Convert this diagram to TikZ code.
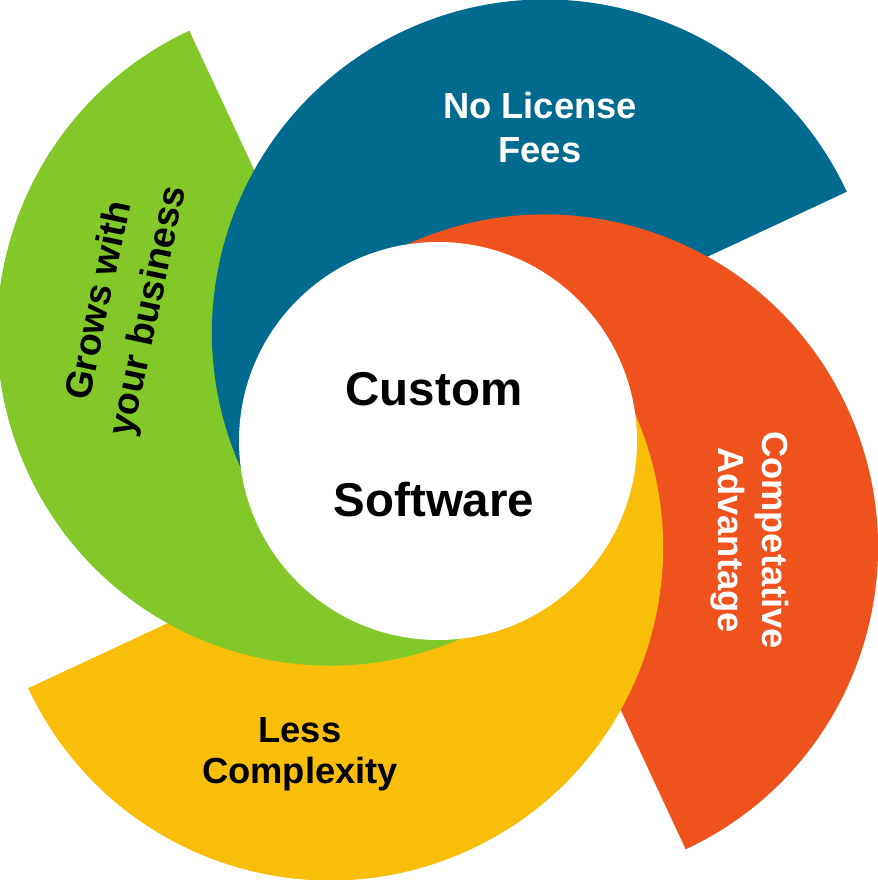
\documentclass[tikz,border=0pt]{standalone}
\usepackage{fontspec}
\setmainfont{Liberation Sans}
\usetikzlibrary{calc}
\definecolor{Blue}{HTML}{006B8F}
\definecolor{Green}{HTML}{82C828}
\definecolor{Orange}{HTML}{F0521E}
\definecolor{Yellow}{HTML}{F8BE0A}

\begin{document}
\begin{tikzpicture}
[x=0.3mm,y=0.3mm,
lbl/.style={font=\bfseries\fontsize{31}{38}\selectfont,align=center,inner sep=0pt},
hubtext/.style={font=\bfseries\fontsize{40.5}{94.7}\selectfont,align=center,inner sep=0pt}
]
\newcommand{\petalpath}[2]{(#1) -- ++(#2-20:333) arc[start angle=#2-20,end angle=#2+160,radius=333] -- cycle}
%% frame
\useasboundingbox (0,0) rectangle (877,880);
%% centres
\coordinate (hubC) at (437.5,440);
\coordinate (cBlue) at ($(hubC)+(45:152)$);
\coordinate (cGreen) at ($(hubC)+(135:152)$);
\coordinate (cYellow) at ($(hubC)+(225:152)$);
\coordinate (cOrange) at ($(hubC)+(315:152)$);
%% petals
\fill[Orange] \petalpath{cOrange}{315};
\fill[Yellow] \petalpath{cYellow}{225};
\fill[Green] \petalpath{cGreen}{135};
\fill[Blue] \petalpath{cBlue}{45};
%% orange goes on top of blue again (half plane above the yellow cut)
\begin{scope}
\clip (cYellow) ++(205:900) -- ++(25:1800) -- ++(115:900) -- ++(205:1800) -- cycle;
\fill[Orange] \petalpath{cOrange}{315};
\end{scope}
%% hub
\fill[white] (438,439) circle[radius=199];
\node[hubtext] (hub) at (434,435) {Custom\\Software};
%% labels
\node[lbl,white] (fees) at (540,752.5) {No License\\Fees};
\node[lbl,white,rotate=-90] (edge) at (750,340) {Competative\\Advantage};
\node[lbl,font=\bfseries\fontsize{31}{35}\selectfont] (simple) at (300,126) {Less\\Complexity};
\node[lbl,rotate=78,font=\bfseries\fontsize{32}{42.7}\selectfont] (grow) at (125,574) {Grows with\\your business};
\end{tikzpicture}
\end{document}
